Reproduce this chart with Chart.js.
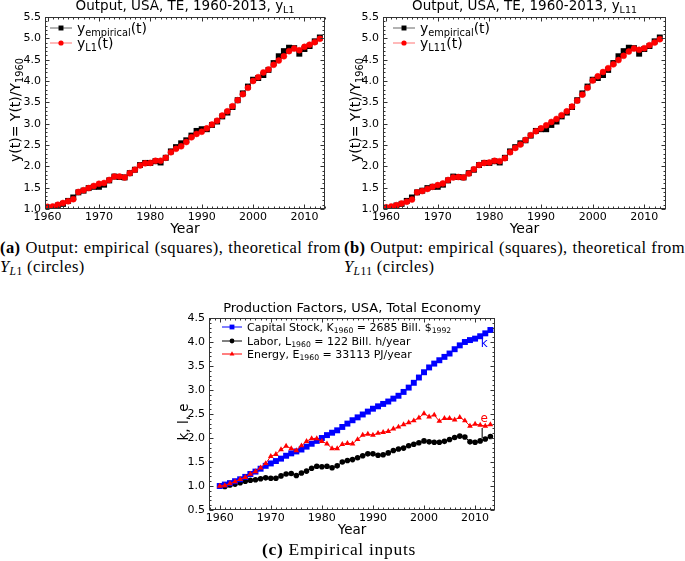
<!DOCTYPE html>
<html>
<head>
<meta charset="utf-8">
<script src="https://cdn.jsdelivr.net/npm/chart.js@4.4.0/dist/chart.umd.min.js"></script>
<style>
  body { margin: 0; background: #fff; width: 685px; height: 561px; position: relative; overflow: hidden; }
  canvas { position: absolute; }
  .cap { position: absolute; font-family: "Liberation Serif", "DejaVu Serif", serif; font-size: 16.5px; color: #000; white-space: nowrap; line-height: 18px; letter-spacing: 0.4px; }
  .just { text-align: justify; text-align-last: justify; white-space: normal; }
  .cap sub { font-size: 70%; vertical-align: -0.25em; line-height: 0; }
</style>
</head>
<body>
<canvas id="chartA" width="340" height="238" style="left:0;top:0"></canvas>
<canvas id="chartB" width="345" height="238" style="left:340px;top:0"></canvas>
<canvas id="chartC" width="385" height="250" style="left:150px;top:290px"></canvas>

<div class="cap just" style="left:0;top:239px;width:341px"><b>(a)</b> Output: empirical (squares), theoretical from</div>
<div class="cap" style="left:0;top:258px"><i>Y</i><sub><i>L</i>1</sub> (circles)</div>
<div class="cap just" style="left:344px;top:239px;width:341px"><b>(b)</b> Output: empirical (squares), theoretical from</div>
<div class="cap" style="left:344px;top:258px"><i>Y</i><sub><i>L</i>11</sub> (circles)</div>
<div class="cap" style="left:262px;top:540px;font-size:17.5px;letter-spacing:0.7px"><b>(c)</b> Empirical inputs</div>

<script>
// years 1960..2013
var years = [];
for (var t = 1960; t <= 2013; t++) years.push(t);

var yEmpirical = [
  1.00, 1.02, 1.08, 1.12, 1.19, 1.27, 1.39, 1.43, 1.49, 1.52,
  1.52, 1.57, 1.67, 1.76, 1.75, 1.74, 1.84, 1.92, 2.03, 2.08,
  2.08, 2.12, 2.09, 2.20, 2.35, 2.45, 2.54, 2.61, 2.72, 2.83,
  2.87, 2.87, 2.97, 3.05, 3.17, 3.26, 3.39, 3.55, 3.71, 3.87,
  4.03, 4.07, 4.14, 4.26, 4.42, 4.58, 4.70, 4.78, 4.77, 4.64,
  4.75, 4.82, 4.93, 5.02
];
var yL1 = [
  1.05, 1.06, 1.10, 1.14, 1.18, 1.23, 1.40, 1.44, 1.49, 1.54,
  1.59, 1.61, 1.68, 1.76, 1.76, 1.74, 1.84, 1.92, 2.02, 2.07,
  2.08, 2.13, 2.13, 2.20, 2.33, 2.41, 2.47, 2.57, 2.68, 2.76,
  2.81, 2.89, 2.98, 3.07, 3.19, 3.29, 3.41, 3.55, 3.69, 3.84,
  4.00, 4.09, 4.20, 4.27, 4.38, 4.48, 4.58, 4.70, 4.76, 4.72,
  4.80, 4.85, 4.91, 4.99
];
var yL11 = [
  1.04, 1.06, 1.09, 1.13, 1.17, 1.22, 1.39, 1.42, 1.47, 1.52,
  1.56, 1.60, 1.68, 1.74, 1.75, 1.74, 1.83, 1.93, 2.03, 2.08,
  2.09, 2.13, 2.12, 2.19, 2.33, 2.43, 2.51, 2.62, 2.73, 2.82,
  2.89, 2.96, 3.04, 3.11, 3.20, 3.29, 3.40, 3.54, 3.68, 3.84,
  4.01, 4.11, 4.21, 4.30, 4.39, 4.49, 4.59, 4.69, 4.76, 4.73,
  4.77, 4.84, 4.90, 4.98
];
var capitalK = [
  1.00, 1.03, 1.06, 1.10, 1.14, 1.19, 1.25, 1.30, 1.36, 1.42,
  1.47, 1.52, 1.57, 1.63, 1.68, 1.72, 1.76, 1.82, 1.88, 1.94,
  2.00, 2.06, 2.11, 2.16, 2.23, 2.30, 2.37, 2.43, 2.49, 2.55,
  2.61, 2.66, 2.71, 2.76, 2.82, 2.88, 2.96, 3.05, 3.15, 3.26,
  3.37, 3.47, 3.55, 3.62, 3.69, 3.76, 3.85, 3.93, 4.00, 4.04,
  4.07, 4.12, 4.18, 4.25
];
var laborL = [
  1.00, 0.99, 1.02, 1.04, 1.07, 1.10, 1.12, 1.13, 1.15, 1.17,
  1.16, 1.16, 1.21, 1.25, 1.26, 1.22, 1.27, 1.31, 1.37, 1.41,
  1.40, 1.41, 1.38, 1.42, 1.50, 1.53, 1.55, 1.59, 1.63, 1.67,
  1.67, 1.64, 1.65, 1.69, 1.74, 1.77, 1.79, 1.84, 1.87, 1.90,
  1.94, 1.92, 1.91, 1.91, 1.93, 1.97, 2.01, 2.04, 2.02, 1.92,
  1.91, 1.94, 1.98, 2.03
];
var energyE = [
  1.00, 1.01, 1.05, 1.09, 1.14, 1.18, 1.25, 1.30, 1.38, 1.47,
  1.62, 1.66, 1.76, 1.83, 1.78, 1.74, 1.84, 1.93, 1.99, 1.99,
  1.93, 1.88, 1.78, 1.78, 1.87, 1.89, 1.88, 1.97, 2.06, 2.08,
  2.06, 2.10, 2.12, 2.14, 2.19, 2.23, 2.28, 2.32, 2.36, 2.42,
  2.51, 2.44, 2.48, 2.35, 2.41, 2.41, 2.38, 2.43, 2.36, 2.25,
  2.29, 2.27, 2.25, 2.28
];

var xTicks = [1960, 1970, 1980, 1990, 2000, 2010];
var yTicksOutput = [1.0, 1.5, 2.0, 2.5, 3.0, 3.5, 4.0, 4.5, 5.0, 5.5];
var yTicksInputs = [0.5, 1.0, 1.5, 2.0, 2.5, 3.0, 3.5, 4.0, 4.5];

var FONT = '"DejaVu Sans", sans-serif';

function pts(vals) {
  return years.map(function (yr, i) { return { x: yr, y: vals[i] }; });
}

// text with subscripts: parts = [[text, isSub], ...]
function richWidth(ctx, parts, size) {
  var w = 0;
  parts.forEach(function (p) {
    ctx.font = (p[1] ? size * 0.7 : size) + 'px ' + FONT;
    w += ctx.measureText(p[0]).width;
  });
  return w;
}
function drawRich(ctx, parts, x, y, size, color, align) {
  var cx = align === 'center' ? x - richWidth(ctx, parts, size) / 2 : x;
  ctx.fillStyle = color;
  ctx.textAlign = 'left';
  ctx.textBaseline = 'alphabetic';
  parts.forEach(function (p) {
    ctx.font = (p[1] ? size * 0.7 : size) + 'px ' + FONT;
    ctx.fillText(p[0], cx, p[1] ? y + size * 0.22 : y);
    cx += ctx.measureText(p[0]).width;
  });
}

var decoPlugin = {
  id: 'deco',
  afterDraw: function (chart, args, o) {
    var ctx = chart.ctx, a = chart.chartArea, xs = chart.scales.x, ys = chart.scales.y;
    var L = Math.round(a.left) + 0.5, R = Math.round(a.right) - 0.5;
    var T = Math.round(a.top) + 0.5, B = Math.round(a.bottom) - 0.5;
    ctx.save();
    ctx.strokeStyle = '#333';
    ctx.lineWidth = 1;
    ctx.strokeRect(L, T, R - L, B - T);

    // inward ticks, major and minor
    ctx.beginPath();
    for (var yr = Math.ceil(xs.min); yr <= xs.max; yr++) {
      var px = Math.round(xs.getPixelForValue(yr)) + 0.5;
      var len = yr % 10 === 0 ? 4 : 2;
      ctx.moveTo(px, B); ctx.lineTo(px, B - len);
      ctx.moveTo(px, T); ctx.lineTo(px, T + len);
    }
    for (var k = Math.ceil(ys.min * 10); k <= ys.max * 10 + 0.001; k++) {
      var py = Math.round(ys.getPixelForValue(k / 10)) + 0.5;
      var ln = k % 5 === 0 ? 4 : 2;
      ctx.moveTo(L, py); ctx.lineTo(L + ln, py);
      ctx.moveTo(R, py); ctx.lineTo(R - ln, py);
    }
    ctx.stroke();

    var cxm = (a.left + a.right) / 2;
    drawRich(ctx, o.title, cxm, o.titleY, o.titleSize, '#000', 'center');
    drawRich(ctx, [['Year', 0]], cxm, o.xLabelY, o.labelSize, '#000', 'center');

    ctx.save();
    ctx.translate(o.yLabelX, o.yLabelMid);
    ctx.rotate(-Math.PI / 2);
    drawRich(ctx, o.yLabel, 0, 0, o.labelSize, '#000', 'center');
    ctx.restore();

    // legend
    o.legend.forEach(function (e, i) {
      var ly = o.legendY[i];
      ctx.strokeStyle = e.line;
      ctx.lineWidth = 1;
      ctx.beginPath();
      ctx.moveTo(o.legendX, ly); ctx.lineTo(o.legendX + o.legendLen, ly);
      ctx.stroke();
      ctx.fillStyle = e.color;
      ctx.strokeStyle = e.color;
      Chart.helpers.drawPoint(ctx, { pointStyle: e.style, radius: e.r, rotation: 0, borderWidth: 0 },
        o.legendX + o.legendLen / 2, ly);
      drawRich(ctx, e.text, o.legendX + o.legendLen + o.legendGap, ly + o.legendSize * 0.33,
        o.legendSize, '#000', 'left');
    });

    (o.notes || []).forEach(function (n) {
      ctx.font = o.noteSize + 'px ' + FONT;
      ctx.fillStyle = n.color;
      ctx.textAlign = 'center';
      ctx.textBaseline = 'alphabetic';
      ctx.fillText(n.text, xs.getPixelForValue(n.x), ys.getPixelForValue(n.y));
    });
    ctx.restore();
  }
};

function makeChart(id, cfg) {
  return new Chart(document.getElementById(id), {
    type: 'line',
    data: { datasets: cfg.datasets },
    options: {
      responsive: false,
      animation: false,
      devicePixelRatio: 1,
      layout: { padding: cfg.padding },
      plugins: { legend: { display: false }, tooltip: { enabled: false }, deco: cfg.deco },
      scales: {
        x: {
          type: 'linear', min: cfg.xMin, max: cfg.xMax,
          grid: { display: false, drawTicks: false }, border: { display: false },
          afterFit: function (s) { s.height = cfg.xAxisHeight; },
          afterBuildTicks: function (s) { s.ticks = xTicks.map(function (v) { return { value: v }; }); },
          ticks: { callback: function (v) { return String(v); }, autoSkip: false, maxRotation: 0,
                   padding: 2, color: '#000', font: { family: FONT, size: 11 } }
        },
        y: {
          type: 'linear', min: cfg.yMin, max: cfg.yMax,
          grid: { display: false, drawTicks: false }, border: { display: false },
          afterFit: function (s) { s.width = cfg.yAxisWidth; },
          afterBuildTicks: function (s) { s.ticks = cfg.yTicks.map(function (v) { return { value: v }; }); },
          ticks: { callback: function (v) { return v.toFixed(1); }, autoSkip: false,
                   padding: 4, color: '#000', font: { family: FONT, size: 11 } }
        }
      }
    },
    plugins: [decoPlugin]
  });
}

function outputSets(theory) {
  return [
    { data: pts(theory), order: 0, borderColor: 'rgba(255,0,0,0.55)', borderWidth: 1, tension: 0,
      pointStyle: 'circle', pointRadius: 3, pointBackgroundColor: '#ff0000', pointBorderColor: '#ff0000', pointBorderWidth: 0.5 },
    { data: pts(yEmpirical), order: 1, borderColor: 'rgba(0,0,0,0.6)', borderWidth: 1, tension: 0,
      pointStyle: 'rect', pointRadius: 4.2, pointBackgroundColor: '#000', pointBorderColor: '#000', pointBorderWidth: 0 }
  ];
}

function outputDeco(sub, legendX, yLabelX) {
  return {
    title: [['Output, USA, TE, 1960-2013, y', 0], [sub, 1]], titleY: 10, titleSize: 13.5,
    xLabelY: 233, labelSize: 14,
    yLabel: [['y(t)= Y(t)/Y', 0], ['1960', 1]], yLabelX: yLabelX, yLabelMid: 110,
    legendX: legendX, legendLen: 22, legendGap: 5, legendSize: 14, legendY: [28, 43],
    legend: [
      { text: [['y', 0], ['empirical', 1], ['(t)', 0]], line: 'rgba(0,0,0,0.6)', color: '#000', style: 'rect', r: 3.5 },
      { text: [['y', 0], [sub, 1], ['(t)', 0]], line: 'rgba(255,0,0,0.55)', color: '#ff0000', style: 'circle', r: 2.6 }
    ]
  };
}

makeChart('chartA', {
  datasets: outputSets(yL1),
  padding: { left: 0, top: 17, right: 15, bottom: 0 },
  yAxisWidth: 45, xAxisHeight: 29,
  xMin: 1959.5, xMax: 2014, yMin: 1.0, yMax: 5.5, yTicks: yTicksOutput,
  deco: outputDeco('L1', 50, 20)
});

makeChart('chartB', {
  datasets: outputSets(yL11),
  padding: { left: 0, top: 17, right: 19, bottom: 0 },
  yAxisWidth: 43, xAxisHeight: 29,
  xMin: 1959.4, xMax: 2014.2, yMin: 1.0, yMax: 5.5, yTicks: yTicksOutput,
  deco: outputDeco('L11', 53, 20)
});

makeChart('chartC', {
  datasets: [
    { data: pts(energyE), order: 0, borderColor: '#ff0000', borderWidth: 1, tension: 0,
      pointStyle: 'triangle', pointRadius: 3.3, pointBackgroundColor: '#ff0000', pointBorderColor: '#ff0000', pointBorderWidth: 0 },
    { data: pts(capitalK), order: 1, borderColor: '#0000ff', borderWidth: 1, tension: 0,
      pointStyle: 'rect', pointRadius: 4.2, pointBackgroundColor: '#0000ff', pointBorderColor: '#0000ff', pointBorderWidth: 0 },
    { data: pts(laborL), order: 2, borderColor: '#000', borderWidth: 1, tension: 0,
      pointStyle: 'circle', pointRadius: 2.8, pointBackgroundColor: '#000', pointBorderColor: '#000', pointBorderWidth: 0 }
  ],
  padding: { left: 0, top: 28, right: 40, bottom: 0 },
  yAxisWidth: 59, xAxisHeight: 30,
  xMin: 1957.9, xMax: 2013.9, yMin: 0.5, yMax: 4.5, yTicks: yTicksInputs,
  deco: {
    title: [['Production Factors, USA, Total Economy', 0]], titleY: 22, titleSize: 13,
    xLabelY: 244, labelSize: 13.5,
    yLabel: [['k, l, e', 0]], yLabelX: 38, yLabelMid: 132,
    legendX: 72, legendLen: 20, legendGap: 5, legendSize: 11, legendY: [37, 51, 64],
    legend: [
      { text: [['Capital Stock, K', 0], ['1960', 1], [' = 2685 Bill. $', 0], ['1992', 1]], line: '#0000ff', color: '#0000ff', style: 'rect', r: 3.4 },
      { text: [['Labor, L', 0], ['1960', 1], [' = 122 Bill. h/year', 0]], line: '#000', color: '#000', style: 'circle', r: 2.4 },
      { text: [['Energy, E', 0], ['1960', 1], [' = 33113 PJ/year', 0]], line: '#ff0000', color: '#ff0000', style: 'triangle', r: 2.8 }
    ],
    noteSize: 12,
    notes: [
      { text: 'k', x: 2011.8, y: 3.9, color: '#0000ff' },
      { text: 'e', x: 2011.8, y: 2.34, color: '#ff0000' },
      { text: 'l', x: 2011.4, y: 2.01, color: '#000' }
    ]
  }
});
</script>
</body>
</html>
